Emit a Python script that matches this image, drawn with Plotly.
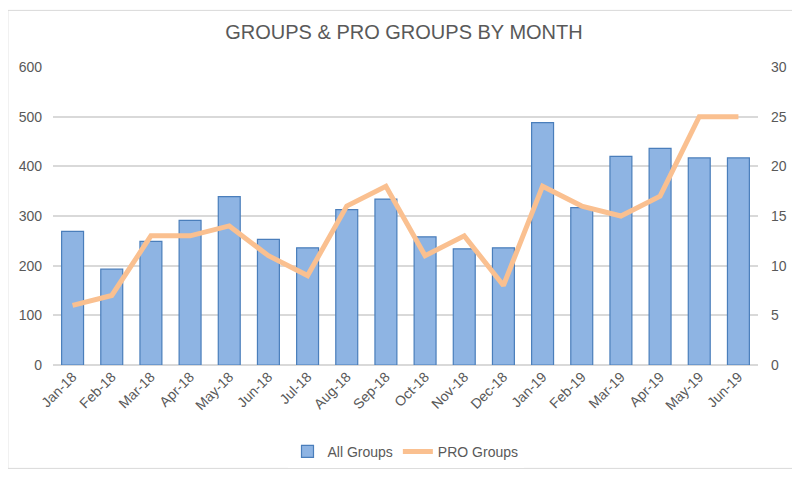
import plotly.graph_objects as go

months = ["Jan-18", "Feb-18", "Mar-18", "Apr-18", "May-18", "Jun-18", "Jul-18", "Aug-18", "Sep-18",
          "Oct-18", "Nov-18", "Dec-18", "Jan-19", "Feb-19", "Mar-19", "Apr-19", "May-19", "Jun-19"]
all_groups = [269, 193, 249, 291, 339, 253, 236, 313, 334, 258, 234, 236, 488, 317, 420, 436, 417, 417]
pro_groups = [6, 7, 13, 13, 14, 11, 9, 16, 18, 11, 13, 8, 18, 16, 15, 17, 25, 25]

font_family = "Liberation Sans, Arial, sans-serif"
grey = "#595959"

fig = go.Figure()
fig.add_trace(go.Bar(x=months, y=all_groups, name="All Groups",
                     marker=dict(color="#8EB4E3", line=dict(color="#4A7EBB", width=1.2))))
fig.add_trace(go.Scatter(x=months, y=pro_groups, name="PRO Groups", yaxis="y2", mode="lines",
                         line=dict(color="#FAC090", width=5)))

# page has an 8px body margin, so the figure is a little smaller than the window
fig.update_layout(
    width=792, height=471,
    paper_bgcolor="white", plot_bgcolor="white",
    margin=dict(l=45, r=42, t=59, b=113),
    title=dict(text="GROUPS & PRO GROUPS BY MONTH", x=0.5, xanchor="center", y=0.95, yanchor="middle",
               font=dict(family=font_family, size=20, color=grey)),
    font=dict(family=font_family, size=14, color=grey),
    bargap=0.44,
    xaxis=dict(tickangle=-45, showgrid=False, showline=False, ticks="",
               tickfont=dict(size=14, color=grey)),
    yaxis=dict(range=[0, 600], dtick=100, gridcolor="#D9D9D9", gridwidth=1.5, zeroline=True,
               zerolinecolor="#D9D9D9", zerolinewidth=1.5, ticks="", tickfont=dict(size=14, color=grey),
               ticklabelstandoff=10),
    yaxis2=dict(range=[0, 30], dtick=5, overlaying="y", side="right", showgrid=False, zeroline=False,
                ticks="", tickfont=dict(size=14, color=grey), ticklabelstandoff=12),
    legend=dict(orientation="h", x=0.5, xanchor="center", y=-0.287, yanchor="middle",
                font=dict(size=14, color=grey), traceorder="normal"),
    shapes=[dict(type="rect", xref="paper", yref="paper", x0=-0.064, x1=1.055, y0=-0.347, y1=1.19,
                 line=dict(color="#D9D9D9", width=1))],
)

fig.write_html("out.html")
